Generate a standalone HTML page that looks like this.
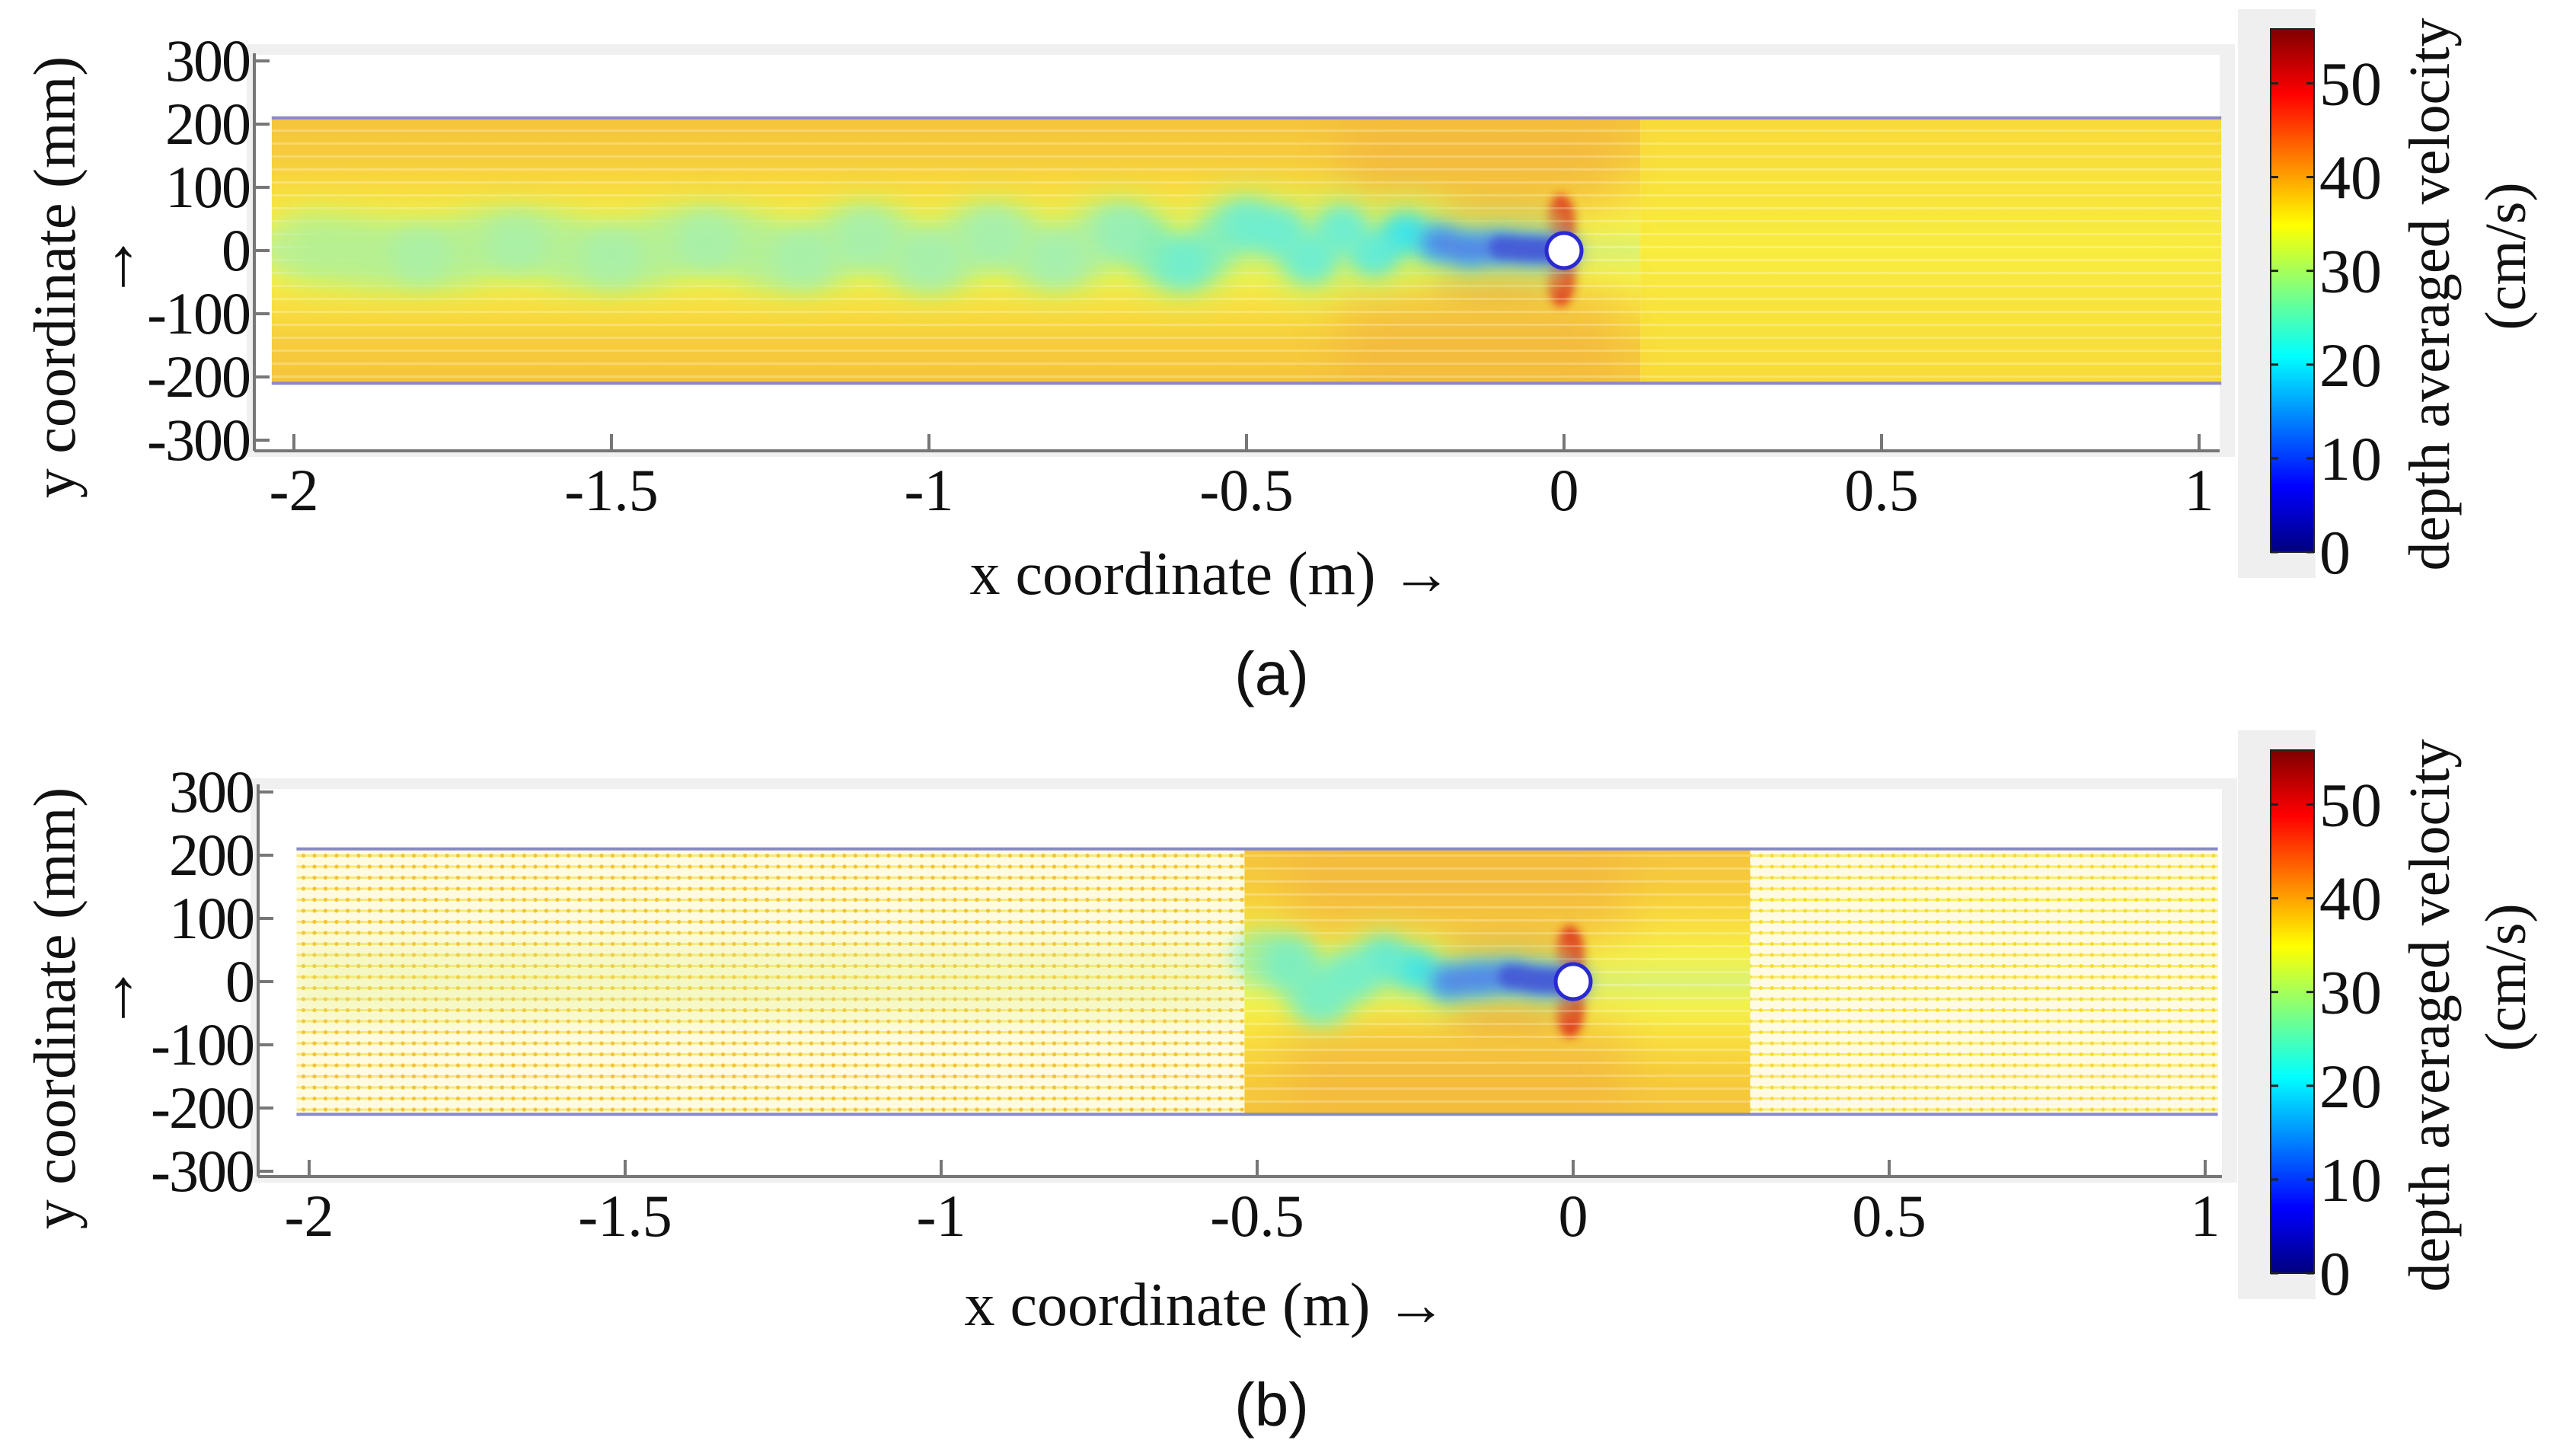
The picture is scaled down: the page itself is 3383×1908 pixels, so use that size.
<!DOCTYPE html>
<html><head><meta charset="utf-8">
<style>
html,body{margin:0;padding:0;background:#fff;}
svg{display:block;}
text{font-family:"Liberation Serif",serif;fill:#111;}
</style></head>
<body>
<svg id="fig" width="3383" height="1908" viewBox="0 0 3383 1908" xmlns="http://www.w3.org/2000/svg">
<defs>
  <filter id="blur6" filterUnits="userSpaceOnUse" x="0" y="0" width="3383" height="1908"><feGaussianBlur stdDeviation="6"/></filter>
  <filter id="blur8" filterUnits="userSpaceOnUse" x="0" y="0" width="3383" height="1908"><feGaussianBlur stdDeviation="12"/></filter>
  <filter id="blur16" filterUnits="userSpaceOnUse" x="0" y="0" width="3383" height="1908"><feGaussianBlur stdDeviation="18"/></filter>
  <filter id="blur30" filterUnits="userSpaceOnUse" x="0" y="0" width="3383" height="1908"><feGaussianBlur stdDeviation="30"/></filter>
  <linearGradient id="jet" x1="0" y1="1" x2="0" y2="0">
    <stop offset="0" stop-color="#00007f"/><stop offset="0.125" stop-color="#0000ff"/>
    <stop offset="0.375" stop-color="#00ffff"/><stop offset="0.625" stop-color="#ffff00"/>
    <stop offset="0.875" stop-color="#ff0000"/><stop offset="1" stop-color="#7f0000"/>
  </linearGradient>
  <linearGradient id="flowV" x1="0" y1="0" x2="0" y2="1">
    <stop offset="0" stop-color="#f5c43c"/><stop offset="0.15" stop-color="#f6cc3c"/>
    <stop offset="0.3" stop-color="#f8e040"/><stop offset="0.4" stop-color="#f4f04a"/>
    <stop offset="0.5" stop-color="#dcf270"/><stop offset="0.6" stop-color="#f4f04a"/>
    <stop offset="0.7" stop-color="#f8e040"/><stop offset="0.85" stop-color="#f6cc3c"/>
    <stop offset="1" stop-color="#f5c43c"/>
  </linearGradient>
  <linearGradient id="flowRight" x1="0" y1="0" x2="0" y2="1">
    <stop offset="0" stop-color="#f8da3a"/><stop offset="0.5" stop-color="#f8ec3e"/><stop offset="1" stop-color="#f8da3a"/>
  </linearGradient>
  <pattern id="stripes" width="40" height="17" patternUnits="userSpaceOnUse">
    <rect x="0" y="0" width="40" height="3" fill="#ffffff" opacity="0.25"/>
  </pattern>
  <pattern id="dotsL" width="14.5" height="14.5" patternUnits="userSpaceOnUse">
    <rect width="14.5" height="14.5" fill="#fefbe0"/>
    <rect x="0" y="5.5" width="14.5" height="3" fill="#f6e050" opacity="0.7"/>
    <circle cx="7" cy="7" r="2.6" fill="#f2c438"/>
  </pattern>
  <pattern id="dotsR" width="14.5" height="14.5" patternUnits="userSpaceOnUse">
    <rect width="14.5" height="14.5" fill="#fefbe2"/>
    <rect x="0" y="5.5" width="14.5" height="3" fill="#f8e848" opacity="0.8"/>
    <circle cx="7" cy="7" r="2.5" fill="#f6da36"/>
  </pattern>
</defs>
<g id="root"></g>
</svg>
<script>
// ---- data ----
const xTicks = [-2, -1.5, -1, -0.5, 0, 0.5, 1];
const xTickLabels = ["-2", "-1.5", "-1", "-0.5", "0", "0.5", "1"];
const yTicks = [300, 200, 100, 0, -100, -200, -300];
const yTickLabels = ["300", "200", "100", "0", "-100", "-200", "-300"];
const cbTicks = [0, 10, 20, 30, 40, 50];
const cbMax = 55.8;
const channelHalfWidth = 210;
// wake centreline (x in m, y in mm) and width (mm)
const wakeAX = [0, -0.05, -0.1, -0.15, -0.2, -0.25, -0.3, -0.35, -0.4, -0.45, -0.5, -0.6, -0.7, -0.8, -0.9, -1.0, -1.1, -1.2, -1.35, -1.5, -1.65, -1.8, -2.0];
const wakeAY = [0, 2, 5, 2, 12, 28, -5, 35, -15, 30, 40, -20, 28, -12, 22, -15, 20, -12, 15, -10, 12, -8, 5];
const wakeAW = [40, 50, 55, 60, 65, 70, 75, 80, 85, 90, 95, 100, 105, 110, 115, 115, 115, 120, 120, 120, 120, 120, 120];
const wakeBX = [0, -0.05, -0.1, -0.15, -0.2, -0.25, -0.3, -0.35, -0.4, -0.45, -0.5];
const wakeBY = [0, 2, 8, 5, 0, 20, 35, 10, -25, 30, 40];
const wakeBW = [40, 50, 55, 60, 65, 75, 85, 95, 100, 100, 100];

const NS = "http://www.w3.org/2000/svg";
const root = document.getElementById('root');
function mk(tag, attrs, parent) {
  const e = document.createElementNS(NS, tag);
  for (const k in attrs) e.setAttribute(k, attrs[k]);
  (parent || root).appendChild(e);
  return e;
}
function smoothPath(xs, ys, sx, sy) {
  const p = xs.map((x, i) => [sx(x), sy(ys[i])]);
  let d = "M" + p[0][0] + " " + p[0][1];
  for (let i = 1; i < p.length; i++) {
    const mx = (p[i - 1][0] + p[i][0]) / 2;
    d += " C" + mx + " " + p[i - 1][1] + " " + mx + " " + p[i][1] + " " + p[i][0] + " " + p[i][1];
  }
  return d;
}

function panel(cfg) {
  const g = mk('g', {});
  
  
  const sx = v => cfg.x0 + cfg.pxPerM * v;
  const sy = mm => cfg.y0 - cfg.pxPerMm * mm;
  const bg = mk('rect', {x: cfg.axL - 10, y: cfg.boxTop, width: cfg.axR - cfg.axL + 30, height: cfg.axB - cfg.boxTop + 8, fill: '#f0f0f0'}, g);
  
  
  mk('rect', {x: cfg.axL, y: cfg.boxTop + 14, width: cfg.axR - cfg.axL, height: cfg.axB - cfg.boxTop - 14, fill: '#ffffff'}, g);

  const top = sy(channelHalfWidth), bot = sy(-channelHalfWidth);
  const xl = sx(cfg.chanL), xr = sx(cfg.chanR);
  const field = mk('g', {}, g);
  
  
  const clip = mk('clipPath', {id: 'clip' + cfg.id}, g);
  mk('rect', {x: xl, y: top, width: xr - xl, height: bot - top}, clip);
  field.setAttribute('clip-path', 'url(#clip' + cfg.id + ')');

  if (cfg.id === 'a') {
    mk('rect', {x: xl, y: top, width: sx(0.12) - xl, height: bot - top, fill: 'url(#flowV)'}, field);
    mk('rect', {x: sx(0.12), y: top, width: xr - sx(0.12), height: bot - top, fill: 'url(#flowRight)'}, field);
  } else {
    mk('rect', {x: xl, y: top, width: sx(-0.52) - xl, height: bot - top, fill: 'url(#dotsL)'}, field);
    mk('rect', {x: xl, y: sy(60), width: sx(-0.52) - xl, height: sy(-60) - sy(60), fill: '#e0f080', opacity: 0.3, filter: 'url(#blur16)'}, field);
    mk('rect', {x: sx(-0.52), y: top, width: sx(0.28) - sx(-0.52), height: bot - top, fill: 'url(#flowV)'}, field);
    mk('rect', {x: sx(0.28), y: top, width: xr - sx(0.28), height: bot - top, fill: 'url(#dotsR)'}, field);
  }
  const hl = cfg.id === 'a' ? -0.35 : -0.45;
  mk('rect', {x: sx(hl), y: top, width: sx(0.08) - sx(hl), height: sy(60) - top, fill: '#f0a840', opacity: 0.45, filter: 'url(#blur30)'}, field);
  mk('rect', {x: sx(hl), y: sy(-60), width: sx(0.08) - sx(hl), height: bot - sy(-60), fill: '#f0a840', opacity: 0.45, filter: 'url(#blur30)'}, field);
  mk('ellipse', {cx: sx(-0.005), cy: sy(45), rx: 18, ry: 36, fill: '#e02818', filter: 'url(#blur6)', opacity: 0.9}, field);
  mk('ellipse', {cx: sx(-0.005), cy: sy(-45), rx: 18, ry: 36, fill: '#e02818', filter: 'url(#blur6)', opacity: 0.9}, field);
  mk('ellipse', {cx: sx(-0.1), cy: sy(45), rx: 90, ry: 22, fill: '#f07838', filter: 'url(#blur16)', opacity: 0.55}, field);
  mk('ellipse', {cx: sx(-0.1), cy: sy(-45), rx: 90, ry: 22, fill: '#f07838', filter: 'url(#blur16)', opacity: 0.55}, field);
  if (cfg.id === 'a') {
    mk('rect', {x: xl, y: top, width: xr - xl, height: bot - top, fill: 'url(#stripes)'}, field);
  } else {
    mk('rect', {x: sx(-0.52), y: top, width: sx(0.28) - sx(-0.52), height: bot - top, fill: 'url(#stripes)'}, field);
  }
  // wake
  const wake = mk('g', {}, field);
  
  
  const d = smoothPath(cfg.wx, cfg.wy, sx, sy);
  const avgW = cfg.ww.reduce((a, b) => a + b, 0) / cfg.ww.length;
  mk('path', {d: d, fill: 'none', stroke: '#c4f070', 'stroke-width': avgW * cfg.pxPerMm * 1.3, 'stroke-linejoin': 'round', opacity: 0.75, filter: 'url(#blur16)'}, wake);
  for (let i = 0; i < cfg.wx.length - 1; i++) {
    const t = i / (cfg.wx.length - 1);
    const col = cfg.wx[i] > -0.3 ? '#38e4f0' : (cfg.wx[i] > -0.7 ? '#68eed8' : '#a0f0b8');
    mk('path', {d: smoothPath([cfg.wx[i], cfg.wx[i + 1]], [cfg.wy[i], cfg.wy[i + 1]], sx, sy), fill: 'none', stroke: col, 'stroke-width': cfg.ww[i] * cfg.pxPerMm * 0.8, 'stroke-linecap': 'round', opacity: 0.85 - t * 0.4, filter: 'url(#blur8)'}, wake);
  }
  const cx = [], cyv = [];
  for (let i = 0; i < cfg.wx.length; i++) if (cfg.wx[i] >= -0.2) { cx.push(cfg.wx[i]); cyv.push(cfg.wy[i]); }
  mk('path', {d: smoothPath(cx, cyv, sx, sy), fill: 'none', stroke: '#5868e8', 'stroke-width': 40, 'stroke-linecap': 'round', opacity: 0.75, filter: 'url(#blur8)'}, wake);
  mk('path', {d: smoothPath(cx.slice(0, 3), cyv.slice(0, 3), sx, sy), fill: 'none', stroke: '#4048d0', 'stroke-width': 30, 'stroke-linecap': 'round', opacity: 0.7, filter: 'url(#blur6)'}, wake);
  const cyl = mk('circle', {cx: sx(0), cy: sy(0), r: 23, fill: '#ffffff', stroke: '#2a2ad0', 'stroke-width': 5}, g);
  
  
  mk('line', {x1: xl, y1: top, x2: xr, y2: top, stroke: '#8888cc', 'stroke-width': 4}, g);
  mk('line', {x1: xl, y1: bot, x2: xr, y2: bot, stroke: '#8888cc', 'stroke-width': 4}, g);

  // axes
  const axes = mk('g', {}, g);
  
  
  mk('line', {x1: cfg.axL, y1: cfg.axB, x2: cfg.axR, y2: cfg.axB, stroke: '#777', 'stroke-width': 4}, axes);
  mk('line', {x1: cfg.axL, y1: cfg.axB, x2: cfg.axL, y2: sy(300) - 10, stroke: '#777', 'stroke-width': 4}, axes);
  xTicks.forEach((v, i) => {
    mk('line', {x1: sx(v), y1: cfg.axB, x2: sx(v), y2: cfg.axB - 22, stroke: '#777', 'stroke-width': 4}, axes);
    const t = mk('text', {x: sx(v), y: cfg.axB + 78, 'font-size': 78, 'text-anchor': 'middle'}, axes);
    t.textContent = xTickLabels[i];
    
    
  });
  yTicks.forEach((v, i) => {
    mk('line', {x1: cfg.axL, y1: sy(v), x2: cfg.axL + 20, y2: sy(v), stroke: '#777', 'stroke-width': 4}, axes);
    const t = mk('text', {x: cfg.axL - 6, y: sy(v) + 26, 'font-size': 78, 'text-anchor': 'end', 'letter-spacing': '-2'}, axes);
    t.textContent = yTickLabels[i];
    
    
  });
  const yt = mk('text', {x: 0, y: 0, 'font-size': 78, 'text-anchor': 'middle', transform: 'translate(98,' + (cfg.y0 + 35) + ') rotate(-90)'}, g);
  yt.textContent = 'y coordinate  (mm)';
  
  
  const ya = mk('text', {x: 162, y: cfg.y0 + 45, 'font-size': 90, 'text-anchor': 'middle'}, g);
  ya.textContent = '↑';
  
  
  const xt = mk('text', {x: cfg.xTitleX, y: cfg.xTitleY, 'font-size': 80, 'text-anchor': 'middle'}, g);
  xt.textContent = 'x coordinate  (m) →';
  
  
  const cap = mk('text', {x: 1670, y: cfg.capY, 'font-size': 80, 'text-anchor': 'middle', style: 'font-family:"Liberation Sans",sans-serif'}, g);
  cap.textContent = cfg.caption;
  
  

  // colorbar
  const cb = mk('g', {}, g);
  
  
  mk('rect', {x: 2939, y: cfg.cbTop - 26, width: 102, height: cfg.cbBot - cfg.cbTop + 60, fill: '#efefef'}, cb);
  mk('rect', {x: 2982, y: cfg.cbTop, width: 57, height: cfg.cbBot - cfg.cbTop, fill: 'url(#jet)', stroke: '#222', 'stroke-width': 2}, cb);
  const cy = v => cfg.cbBot - (cfg.cbBot - cfg.cbTop) * v / cbMax;
  cbTicks.forEach(v => {
    mk('line', {x1: 2982, y1: cy(v), x2: 2992, y2: cy(v), stroke: '#222', 'stroke-width': 3}, cb);
    mk('line', {x1: 3029, y1: cy(v), x2: 3039, y2: cy(v), stroke: '#222', 'stroke-width': 3}, cb);
    const t = mk('text', {x: 3046, y: cy(v) + 28, 'font-size': 82}, cb);
    t.textContent = String(v);
    
    
  });
  const mid = (cfg.cbTop + cfg.cbBot) / 2;
  const ct1 = mk('text', {x: 0, y: 0, 'font-size': 76, 'text-anchor': 'middle', transform: 'translate(3216,' + (mid + 5) + ') rotate(-90)'}, cb);
  ct1.textContent = 'depth averaged  velocity';
  
  
  const ct2 = mk('text', {x: 0, y: 0, 'font-size': 76, 'text-anchor': 'middle', transform: 'translate(3316,' + (mid - 45) + ') rotate(-90)'}, cb);
  ct2.textContent = '(cm/s)';
  
  
}

panel({id: 'a', name: 'panel-a', x0: 2054, pxPerM: 834, y0: 329, pxPerMm: 0.83, axL: 334, axR: 2915, axB: 592, boxTop: 58,
  chanL: -2.035, chanR: 1.035, wx: wakeAX, wy: wakeAY, ww: wakeAW, xTitleX: 1590, xTitleY: 780, capY: 912, caption: '(a)', cbTop: 38, cbBot: 725});
panel({id: 'b', name: 'panel-b', x0: 2066, pxPerM: 830, y0: 1289, pxPerMm: 0.83, axL: 339, axR: 2918, axB: 1545, boxTop: 1022,
  chanL: -2.02, chanR: 1.02, wx: wakeBX, wy: wakeBY, ww: wakeBW, xTitleX: 1583, xTitleY: 1740, capY: 1872, caption: '(b)', cbTop: 985, cbBot: 1672});
</script>
</body></html>
